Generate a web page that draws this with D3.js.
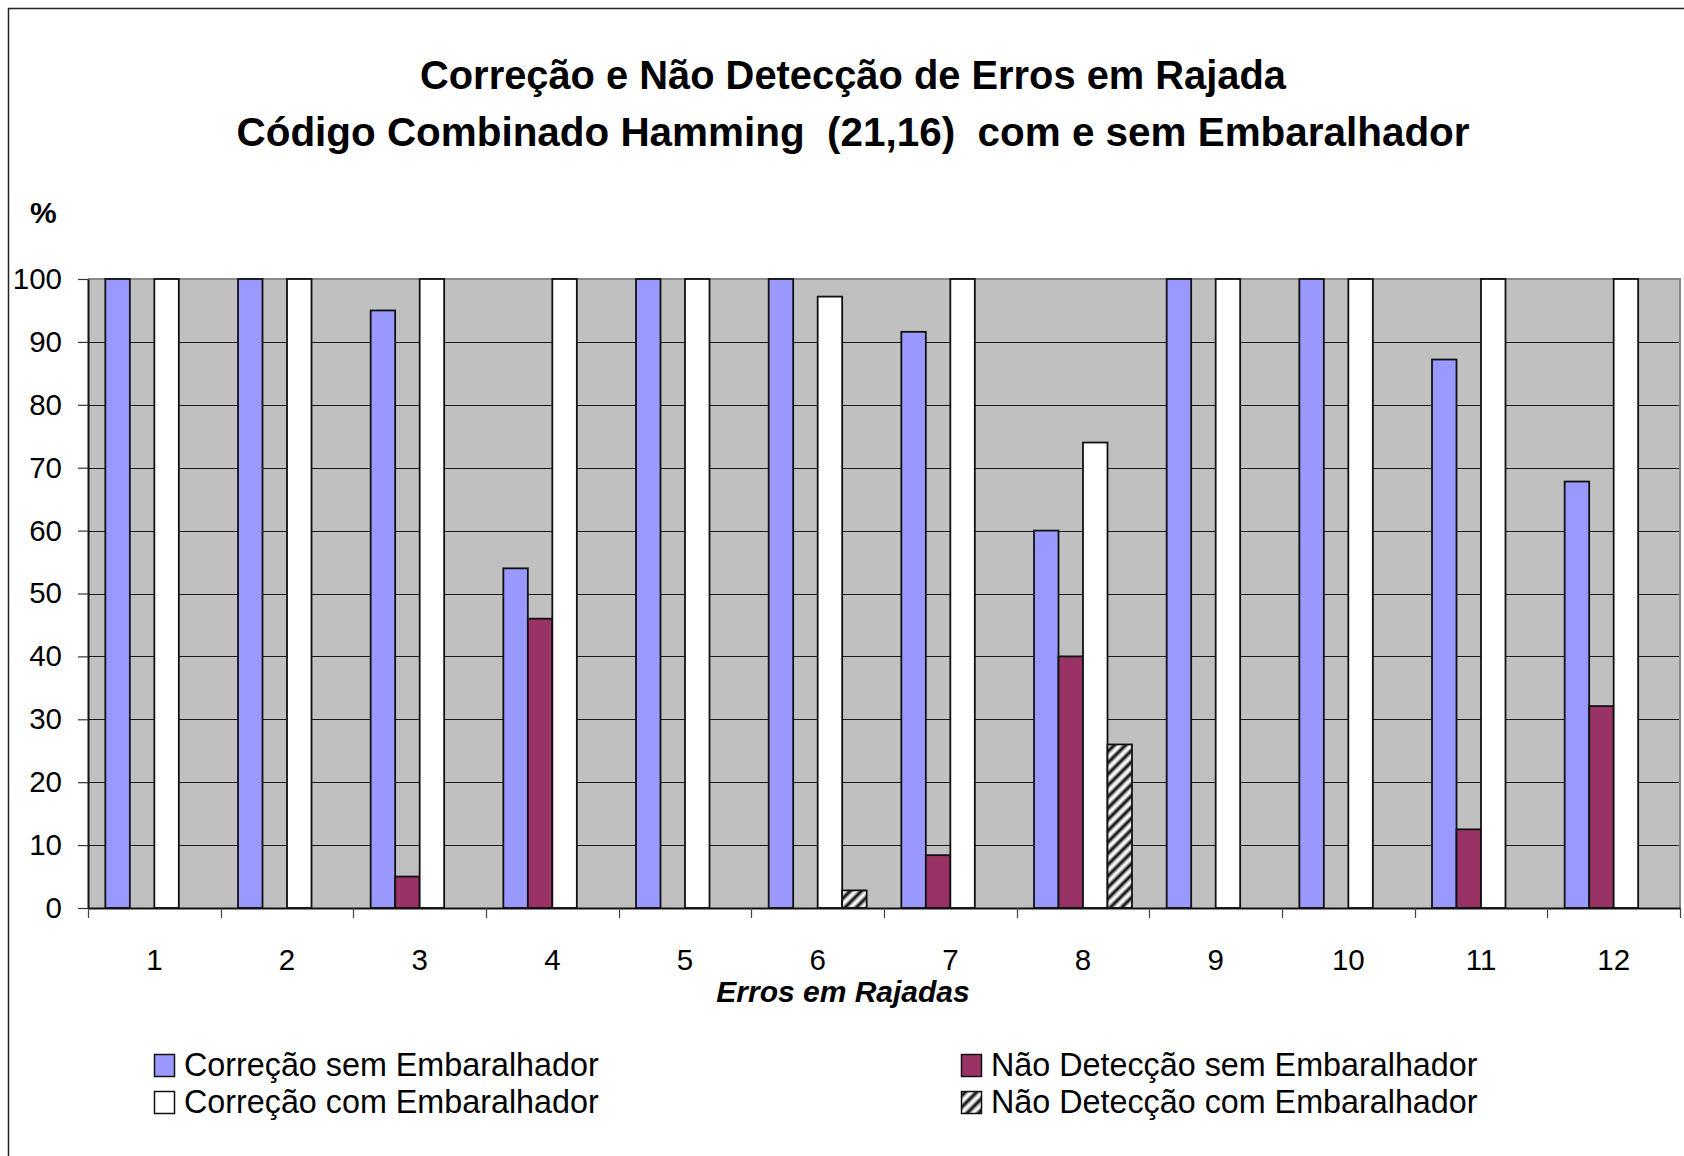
<!DOCTYPE html>
<html>
<head>
<meta charset="utf-8">
<script src="https://cdn.jsdelivr.net/npm/d3@7"></script>
<style>
  html, body { margin: 0; padding: 0; background: #ffffff; }
  svg { display: block; font-family: "Liberation Sans", Arial, sans-serif; }
</style>
</head>
<body>
<svg id="chart" width="1684" height="1156"></svg>
<script>
// Burst-error sizes (x categories)
const categories = ["1", "2", "3", "4", "5", "6", "7", "8", "9", "10", "11", "12"];

// Series names, in drawing order inside each group
const seriesNames = [
  "Correção sem Embaralhador",
  "Não Detecção sem Embaralhador",
  "Correção com Embaralhador",
  "Não Detecção com Embaralhador"
];

// Percent values per series
const correcaoSem    = [100, 100, 95, 54, 100, 100, 91.6, 60, 100, 100, 87.2, 67.8];
const naoDeteccaoSem = [0, 0, 5, 46, 0, 0, 8.4, 40, 0, 0, 12.5, 32.1];
const correcaoCom    = [100, 100, 100, 100, 100, 97.2, 100, 74, 100, 100, 100, 100];
const naoDeteccaoCom = [0, 0, 0, 0, 0, 2.8, 0, 26, 0, 0, 0, 0];

const yTicks = [0, 10, 20, 30, 40, 50, 60, 70, 80, 90, 100];

const titleLines = [
  "Correção e Não Detecção de Erros em Rajada",
  "Código Combinado Hamming  (21,16)  com e sem Embaralhador"
];
const titleWidths = [866, 1233];
const xTitle = "Erros em Rajadas";
const yTitle = "%";

const seriesValues = [correcaoSem, naoDeteccaoSem, correcaoCom, naoDeteccaoCom];
const seriesFills = ["#9999ff", "#993366", "#ffffff", "url(#hatch)"];

const svg = d3.select("#chart");

// Diagonal hatch for the last series
const defs = svg.append("defs");
const pat = defs.append("pattern")
  .attr("id", "hatch")
  .attr("patternUnits", "userSpaceOnUse")
  .attr("width", 8).attr("height", 8)
  .attr("patternTransform", "rotate(45)");
pat.append("rect").attr("width", 8).attr("height", 8).attr("fill", "#ffffff");
pat.append("rect").attr("x", 1.5).attr("width", 1).attr("height", 8).attr("fill", "#888888");
pat.append("rect").attr("x", 2.5).attr("width", 3).attr("height", 8).attr("fill", "#1a1a1a");
pat.append("rect").attr("x", 5.5).attr("width", 1).attr("height", 8).attr("fill", "#888888");

// Outer chart frame (top and left edges)
svg.append("path")
  .attr("d", "M8.5,1156 L8.5,8.5 L1684,8.5")
  .attr("fill", "none")
  .attr("stroke", "#222")
  .attr("stroke-width", 1.5);

// Plot area
const plot = { left: 88, right: 1680, top: 279, bottom: 908 };

const x0 = d3.scaleBand()
  .domain(categories)
  .range([plot.left, plot.right])
  .paddingInner(0)
  .paddingOuter(0);

const x1 = d3.scaleBand()
  .domain(d3.range(seriesNames.length))
  .range([0, x0.bandwidth()])
  .paddingInner(0)
  .paddingOuter(0.708);

const y = d3.scaleLinear().domain([0, 100]).range([plot.bottom, plot.top]);

svg.append("rect")
  .attr("x", plot.left).attr("y", plot.top)
  .attr("width", plot.right - plot.left)
  .attr("height", plot.bottom - plot.top)
  .attr("fill", "#c0c0c0");

// Horizontal gridlines
svg.append("g")
  .selectAll("line")
  .data(yTicks.filter(t => t > 0 && t < 100))
  .join("line")
  .attr("x1", plot.left).attr("x2", plot.right)
  .attr("y1", d => Math.round(y(d)) + 0.5)
  .attr("y2", d => Math.round(y(d)) + 0.5)
  .attr("stroke", "#1a1a1a")
  .attr("stroke-width", 1);

// Plot border (top / right)
svg.append("path")
  .attr("d", `M${plot.left},${plot.top} L${plot.right},${plot.top} L${plot.right},${plot.bottom}`)
  .attr("fill", "none")
  .attr("stroke", "#8a8a8a")
  .attr("stroke-width", 2);

// Bars
const groups = svg.append("g")
  .selectAll("g")
  .data(categories)
  .join("g")
  .attr("transform", d => `translate(${x0(d)},0)`);

groups.selectAll("rect")
  .data((c, i) => seriesValues.map((vals, s) => ({ s, v: vals[i] })))
  .join("rect")
  .attr("x", d => x1(d.s))
  .attr("width", x1.bandwidth())
  .attr("y", d => y(d.v))
  .attr("height", d => y(0) - y(d.v))
  .attr("fill", d => seriesFills[d.s])
  .attr("stroke", "#111")
  .attr("stroke-width", 1.8);

// Y axis
const yAxis = svg.append("g")
  .attr("transform", `translate(${plot.left},0)`)
  .call(d3.axisLeft(y).tickValues(yTicks).tickSize(10).tickPadding(16).tickSizeOuter(0));
yAxis.select(".domain").attr("stroke", "#111").attr("stroke-width", 2);
yAxis.selectAll(".tick line").attr("stroke", "#333").attr("stroke-width", 1.2);
yAxis.selectAll(".tick text")
  .attr("fill", "#000")
  .style("font-size", "29.5px")
  .style("font-family", "'Liberation Sans', Arial, sans-serif");

// X axis: labels centred on groups
const xAxis = svg.append("g")
  .attr("transform", `translate(0,${plot.bottom})`)
  .call(d3.axisBottom(x0).tickSize(0).tickPadding(41).tickSizeOuter(0));
xAxis.select(".domain").attr("stroke", "#111").attr("stroke-width", 2);
xAxis.selectAll(".tick text")
  .attr("fill", "#000")
  .style("font-size", "29.5px")
  .style("font-family", "'Liberation Sans', Arial, sans-serif");

// Tick marks between groups
const boundaries = categories.map(c => x0(c)).concat([x0.range()[1]]);
svg.append("g")
  .selectAll("line")
  .data(boundaries)
  .join("line")
  .attr("x1", d => Math.round(d) + 0.5).attr("x2", d => Math.round(d) + 0.5)
  .attr("y1", plot.bottom).attr("y2", plot.bottom + 10)
  .attr("stroke", "#444")
  .attr("stroke-width", 1.2);

// Titles
svg.append("g")
  .selectAll("text")
  .data(titleLines)
  .join("text")
  .attr("x", 853)
  .attr("y", (d, i) => 89 + i * 57)
  .attr("text-anchor", "middle")
  .attr("textLength", (d, i) => titleWidths[i])
  .attr("lengthAdjust", "spacingAndGlyphs")
  .style("white-space", "pre")
  .style("font-size", "40px")
  .style("font-weight", "bold")
  .attr("fill", "#000")
  .text(d => d);

svg.append("text")
  .attr("x", 843).attr("y", 1002)
  .attr("text-anchor", "middle")
  .style("font-size", "30px")
  .style("font-weight", "bold")
  .style("font-style", "italic")
  .attr("fill", "#000")
  .text(xTitle);

svg.append("text")
  .attr("x", 30).attr("y", 223)
  .style("font-size", "30px")
  .style("font-weight", "bold")
  .attr("fill", "#000")
  .text(yTitle);

// Legend: two columns, two rows
const legendPos = [
  { x: 154, y: 1054 },
  { x: 961, y: 1054 },
  { x: 154, y: 1091 },
  { x: 961, y: 1091 }
];
const legend = svg.append("g")
  .selectAll("g")
  .data(seriesNames)
  .join("g")
  .attr("transform", (d, i) => `translate(${legendPos[i].x},${legendPos[i].y})`);

legend.append("rect")
  .attr("x", 0.5).attr("y", 0.5)
  .attr("width", 20).attr("height", 22)
  .attr("fill", (d, i) => seriesFills[i])
  .attr("stroke", "#111")
  .attr("stroke-width", 1.5);

legend.append("text")
  .attr("x", 30).attr("y", 22)
  .style("font-size", "32.3px")
  .attr("fill", "#000")
  .text(d => d);
</script>
</body>
</html>
